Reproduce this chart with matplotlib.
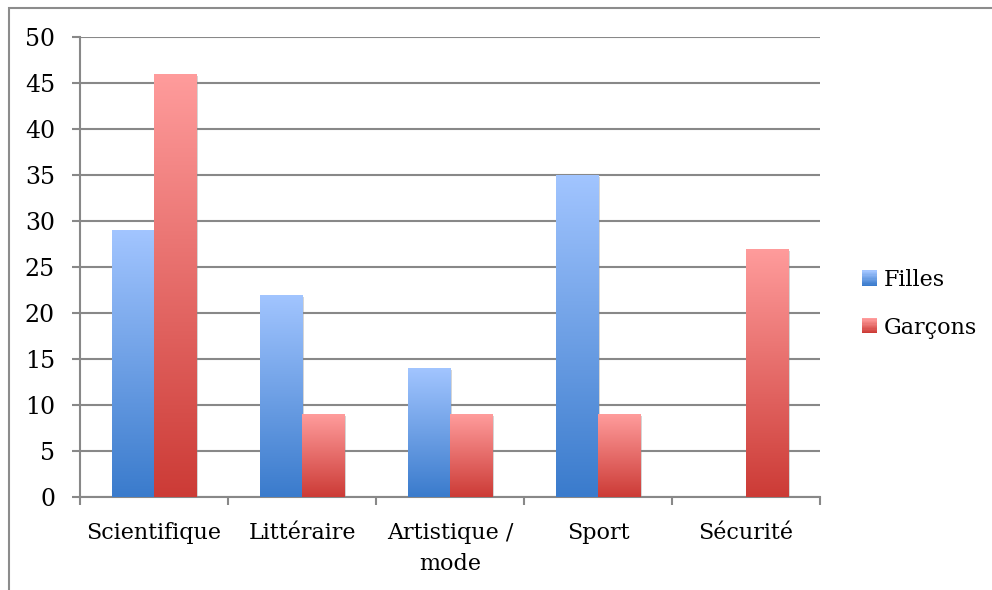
import numpy as np
import matplotlib
matplotlib.use("Agg")
import matplotlib.pyplot as plt
from matplotlib.patches import Rectangle
from matplotlib.legend_handler import HandlerBase
from matplotlib.colors import LinearSegmentedColormap
import matplotlib.patheffects as pe

categories = ["Scientifique", "Littéraire", "Artistique /\nmode", "Sport", "Sécurité"]
series_names = ["Filles", "Garçons"]
filles = [29, 22, 14, 35, 0]
garcons = [46, 9, 9, 9, 27]
yticks = [0, 5, 10, 15, 20, 25, 30, 35, 40, 45, 50]

plt.rcParams['font.family'] = ['DejaVu Serif']
FS = 16

blue_top, blue_bot = "#a2c5ff", "#3a7bcc"
red_top, red_bot = "#ff9c9c", "#cc3b36"
cmaps = [LinearSegmentedColormap.from_list("b", [blue_bot, blue_top]),
         LinearSegmentedColormap.from_list("r", [red_bot, red_top])]

W, H = 992, 590
fig = plt.figure(figsize=(W / 100, H / 100), dpi=100)
fig.patches.append(Rectangle((9 / W, -0.1), 1.2, (H - 8) / H + 0.1, transform=fig.transFigure,
                             fill=False, edgecolor="#8c8c8c", linewidth=1.5, zorder=0))
ax = fig.add_axes([80 / W, (H - 497) / H, 740 / W, 460 / H])

n = len(categories)
x = np.arange(n)
bw = 0.285
grad = np.linspace(0, 1, 256).reshape(-1, 1)

for si, vals in enumerate([filles, garcons]):
    offs = -bw / 2 if si == 0 else bw / 2
    bars = ax.bar(x + offs, vals, width=bw, color="white", edgecolor="none", zorder=3,
                  label=series_names[si])
    for b in bars:
        h = b.get_height()
        if h <= 0:
            b.set_visible(False)
            continue
        b.set_path_effects([pe.SimplePatchShadow(offset=(1.5, -1.5), shadow_rgbFace="#888888", alpha=0.35),
                            pe.Normal()])
        im = ax.imshow(grad, cmap=cmaps[si], origin="lower", aspect="auto",
                       extent=[b.get_x(), b.get_x() + b.get_width(), 0, h], zorder=4,
                       interpolation="bilinear")
        im.set_clip_path(b)

ax.set_xlim(-0.5, n - 0.5)
ax.set_ylim(0, 50)
ax.set_yticks(yticks)
ax.set_yticklabels([str(t) for t in yticks], fontsize=FS + 1)
ax.yaxis.grid(True, color="#888888", linewidth=1.5, zorder=1)
ax.set_axisbelow(True)
ax.set_xticks(x)
ax.set_xticklabels(categories, fontsize=FS, linespacing=1.55)
ax.set_xticks(np.arange(-0.5, n, 1.0), minor=True)
ax.tick_params(axis="x", which="major", length=0, pad=18)
ax.tick_params(axis="x", which="minor", length=6, width=1.5, color="#888888")
ax.tick_params(axis="y", length=6, width=1.5, color="#888888", pad=12)
for s in ["top", "right"]:
    ax.spines[s].set_visible(False)
for s in ["left", "bottom"]:
    ax.spines[s].set_color("#888888")
    ax.spines[s].set_linewidth(1.5)


class GradHandler(HandlerBase):
    def __init__(self, cmap):
        super().__init__()
        self.cmap = cmap

    def create_artists(self, legend, orig_handle, xdescent, ydescent, width, height, fontsize, trans):
        arts = []
        k = 12
        for i in range(k):
            c = self.cmap(i / (k - 1))
            r = Rectangle((-xdescent, -ydescent + height * i / k), width, height / k + 0.3,
                          facecolor=c, edgecolor="none", transform=trans)
            arts.append(r)
        return arts


handles, labels = ax.get_legend_handles_labels()
leg = ax.legend(handles, labels, loc="center left", bbox_to_anchor=(1.057, 0.42),
                frameon=False, fontsize=FS, handlelength=0.68, handleheight=0.68,
                handletextpad=0.3, labelspacing=1.15, borderpad=0, borderaxespad=0,
                handler_map={handles[0]: GradHandler(cmaps[0]), handles[1]: GradHandler(cmaps[1])})

fig.savefig("out.png", dpi=100)
